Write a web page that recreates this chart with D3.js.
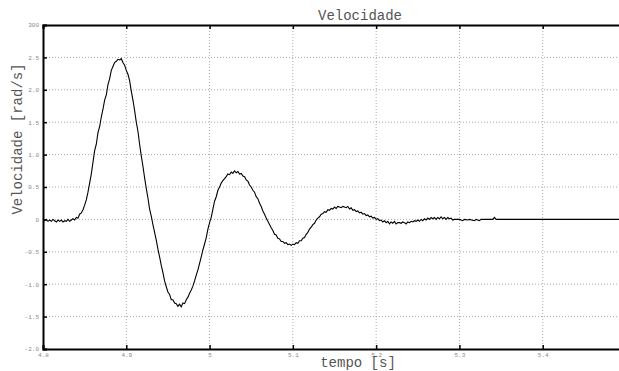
<!DOCTYPE html>
<html>
<head>
  <title>Velocidade</title>
  <script src="https://d3js.org/d3.v7.min.js"></script>
  <style>
    body { margin: 0; background: #fff; }
  </style>
</head>
<body>
  <div id="chart"></div>

  <script>
    const tempo = [
      4.800, 4.802, 4.804, 4.806, 4.808, 4.810, 4.812, 4.814, 4.816, 4.818,
      4.820, 4.822, 4.824, 4.826, 4.828, 4.830, 4.832, 4.834, 4.836, 4.838,
      4.840, 4.842, 4.844, 4.846, 4.848, 4.850, 4.852, 4.854, 4.856, 4.858,
      4.860, 4.862, 4.864, 4.866, 4.868, 4.870, 4.872, 4.874, 4.876, 4.878,
      4.880, 4.882, 4.884, 4.886, 4.888, 4.890, 4.892, 4.894, 4.896, 4.898,
      4.900, 4.902, 4.904, 4.906, 4.908, 4.910, 4.912, 4.914, 4.916, 4.918,
      4.920, 4.922, 4.924, 4.926, 4.928, 4.930, 4.932, 4.934, 4.936, 4.938,
      4.940, 4.942, 4.944, 4.946, 4.948, 4.950, 4.952, 4.954, 4.956, 4.958,
      4.960, 4.962, 4.964, 4.966, 4.968, 4.970, 4.972, 4.974, 4.976, 4.978,
      4.980, 4.982, 4.984, 4.986, 4.988, 4.990, 4.992, 4.994, 4.996, 4.998,
      5.000, 5.002, 5.004, 5.006, 5.008, 5.010, 5.012, 5.014, 5.016, 5.018,
      5.020, 5.022, 5.024, 5.026, 5.028, 5.030, 5.032, 5.034, 5.036, 5.038,
      5.040, 5.042, 5.044, 5.046, 5.048, 5.050, 5.052, 5.054, 5.056, 5.058,
      5.060, 5.062, 5.064, 5.066, 5.068, 5.070, 5.072, 5.074, 5.076, 5.078,
      5.080, 5.082, 5.084, 5.086, 5.088, 5.090, 5.092, 5.094, 5.096, 5.098,
      5.100, 5.102, 5.104, 5.106, 5.108, 5.110, 5.112, 5.114, 5.116, 5.118,
      5.120, 5.122, 5.124, 5.126, 5.128, 5.130, 5.132, 5.134, 5.136, 5.138,
      5.140, 5.142, 5.144, 5.146, 5.148, 5.150, 5.152, 5.154, 5.156, 5.158,
      5.160, 5.162, 5.164, 5.166, 5.168, 5.170, 5.172, 5.174, 5.176, 5.178,
      5.180, 5.182, 5.184, 5.186, 5.188, 5.190, 5.192, 5.194, 5.196, 5.198,
      5.200, 5.202, 5.204, 5.206, 5.208, 5.210, 5.212, 5.214, 5.216, 5.218,
      5.220, 5.222, 5.224, 5.226, 5.228, 5.230, 5.232, 5.234, 5.236, 5.238,
      5.240, 5.242, 5.244, 5.246, 5.248, 5.250, 5.252, 5.254, 5.256, 5.258,
      5.260, 5.262, 5.264, 5.266, 5.268, 5.270, 5.272, 5.274, 5.276, 5.278,
      5.280, 5.282, 5.284, 5.286, 5.288, 5.290, 5.292, 5.294, 5.300, 5.304,
      5.306, 5.310, 5.312, 5.318, 5.320, 5.324, 5.326, 5.340, 5.342, 5.344,
      5.346, 5.500
    ];

    const velocidade = [
      0.00, -0.02, 0.00, -0.03, -0.01, -0.03, 0.00, -0.02, -0.04, -0.01,
      -0.03, -0.01, -0.04, -0.02, -0.03, 0.00, -0.03, -0.01, 0.01, -0.01,
      0.03, 0.02, 0.08, 0.10, 0.15, 0.22, 0.30, 0.42, 0.56, 0.70,
      0.88, 1.06, 1.16, 1.34, 1.43, 1.58, 1.70, 1.84, 1.92, 2.08,
      2.17, 2.30, 2.36, 2.42, 2.44, 2.47, 2.46, 2.48, 2.42, 2.38,
      2.30, 2.24, 2.14, 1.98, 1.84, 1.68, 1.50, 1.36, 1.16, 0.98,
      0.82, 0.64, 0.48, 0.33, 0.16, 0.05, -0.08, -0.20, -0.32, -0.46,
      -0.58, -0.71, -0.82, -0.95, -1.04, -1.12, -1.16, -1.24, -1.24, -1.29,
      -1.30, -1.34, -1.31, -1.35, -1.29, -1.30, -1.24, -1.20, -1.14, -1.09,
      -1.03, -0.95, -0.86, -0.78, -0.68, -0.58, -0.47, -0.38, -0.28, -0.15,
      -0.05, 0.03, 0.16, 0.28, 0.35, 0.45, 0.50, 0.56, 0.60, 0.63,
      0.66, 0.70, 0.69, 0.73, 0.71, 0.75, 0.72, 0.74, 0.70, 0.71,
      0.67, 0.66, 0.61, 0.59, 0.53, 0.50, 0.45, 0.42, 0.35, 0.32,
      0.25, 0.20, 0.13, 0.08, 0.02, -0.03, -0.08, -0.13, -0.17, -0.23,
      -0.24, -0.29, -0.30, -0.34, -0.34, -0.37, -0.36, -0.39, -0.38, -0.40,
      -0.38, -0.39, -0.36, -0.37, -0.33, -0.33, -0.29, -0.28, -0.23, -0.20,
      -0.15, -0.12, -0.08, -0.06, -0.01, 0.02, 0.04, 0.08, 0.09, 0.12,
      0.11, 0.15, 0.14, 0.17, 0.16, 0.19, 0.17, 0.20, 0.19, 0.18,
      0.20, 0.19, 0.18, 0.20, 0.16, 0.18, 0.14, 0.15, 0.12, 0.13,
      0.10, 0.11, 0.08, 0.09, 0.06, 0.07, 0.04, 0.05, 0.02, 0.03,
      0.00, 0.01, -0.02, -0.01, -0.04, -0.02, -0.05, -0.03, -0.07, -0.04,
      -0.06, -0.03, -0.07, -0.05, -0.05, -0.06, -0.04, -0.05, -0.07, -0.04,
      -0.05, -0.03, -0.04, -0.02, -0.03, -0.01, -0.03, 0.00, -0.02, 0.01,
      -0.01, 0.02, 0.00, 0.03, 0.01, 0.03, 0.00, 0.03, 0.01, 0.04,
      0.01, 0.03, 0.00, 0.03, 0.01, 0.02, -0.01, 0.00, 0.00, -0.02,
      0.00, -0.01, 0.00, -0.02, 0.00, -0.02, 0.00, 0.00, 0.03, 0.00,
      0.00, 0.00
    ];

    const xTicks = [4.8, 4.9, 5.0, 5.1, 5.2, 5.3, 5.4, 5.5];
    const xTickLabels = ["4.8", "4.9", "5", "5.1", "5.2", "5.3", "5.4", ""];
    const yTicks = [-2, -1.5, -1, -0.5, 0, 0.5, 1, 1.5, 2, 2.5, 3];
    const yTickLabels = ["-2.0", "-1.5", "-1.0", "-0.5", "0", "0.5", "1.0", "1.5", "2.0", "2.5", "300"];

    const W = 619, H = 371;
    const margin = { top: 25, left: 43 };
    const plotW = 583, plotH = 324;

    const svg = d3.select("#chart")
      .append("svg")
      .attr("width", W)
      .attr("height", H);

    const x = d3.scaleLinear().domain([4.8, 5.5]).range([margin.left, margin.left + plotW]);
    const y = d3.scaleLinear().domain([-2, 3]).range([margin.top + plotH, margin.top]);

    const mono = "'Liberation Mono', 'DejaVu Sans Mono', monospace";

    // dotted grid
    svg.append("g")
      .selectAll("line")
      .data(xTicks.slice(1))
      .join("line")
      .attr("x1", d => x(d)).attr("x2", d => x(d))
      .attr("y1", y(3)).attr("y2", y(-2))
      .attr("stroke", "#aaa")
      .attr("stroke-width", 1)
      .attr("stroke-dasharray", "1,2");

    svg.append("g")
      .selectAll("line")
      .data(yTicks.slice(1, -1))
      .join("line")
      .attr("x1", x(4.8)).attr("x2", x(5.5))
      .attr("y1", d => y(d)).attr("y2", d => y(d))
      .attr("stroke", "#aaa")
      .attr("stroke-width", 1)
      .attr("stroke-dasharray", "1,2");

    // curve
    const pts = tempo.map((t, i) => [t, velocidade[i]]);
    svg.append("path")
      .datum(pts)
      .attr("fill", "none")
      .attr("stroke", "#000")
      .attr("stroke-width", 1.1)
      .attr("d", d3.line().x(d => x(d[0])).y(d => y(d[1])));

    // axes with inward ticks
    const axisBottomG = svg.append("g")
      .attr("transform", "translate(0," + y(-2) + ")")
      .call(d3.axisBottom(x).tickValues(xTicks).tickSize(-4).tickPadding(4)
        .tickFormat((d, i) => xTickLabels[i]));

    const axisTopG = svg.append("g")
      .attr("transform", "translate(0," + y(3) + ")")
      .call(d3.axisTop(x).tickValues(xTicks).tickSize(-4).tickFormat(""));

    const axisLeftG = svg.append("g")
      .attr("transform", "translate(" + x(4.8) + ",0)")
      .call(d3.axisLeft(y).tickValues(yTicks).tickSize(-4).tickPadding(4)
        .tickFormat((d, i) => yTickLabels[i]));

    [axisBottomG, axisTopG, axisLeftG].forEach(g => {
      g.select(".domain").attr("stroke", "#000").attr("stroke-width", 2);
      g.selectAll(".tick line").attr("stroke", "#000").attr("stroke-width", 1.5);
      g.selectAll("text")
        .attr("fill", "#888")
        .style("font-family", mono)
        .style("font-size", "6px");
    });

    // titles
    svg.append("text")
      .attr("x", 360)
      .attr("y", 20)
      .attr("text-anchor", "middle")
      .attr("fill", "#555")
      .style("font-family", mono)
      .style("font-size", "14px")
      .text("Velocidade");

    svg.append("text")
      .attr("x", 358)
      .attr("y", 367)
      .attr("text-anchor", "middle")
      .attr("fill", "#555")
      .style("font-family", mono)
      .style("font-size", "14px")
      .text("tempo [s]");

    svg.append("text")
      .attr("transform", "translate(22,139) rotate(-90)")
      .attr("text-anchor", "middle")
      .attr("fill", "#555")
      .style("font-family", mono)
      .style("font-size", "14px")
      .text("Velocidade [rad/s]");
  </script>
</body>
</html>
